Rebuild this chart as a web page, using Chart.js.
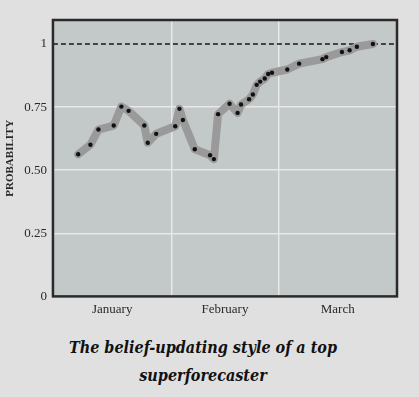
<!DOCTYPE html>
<html>
<head>
<meta charset="utf-8">
<script src="https://cdn.jsdelivr.net/npm/chart.js@4/dist/chart.umd.min.js"></script>
<style>
  html, body { margin: 0; padding: 0; background: #e0e0e0; }
  #wrap { position: relative; width: 419px; height: 322px; }
  #caption {
    position: absolute; left: 0; top: 334px; width: 406px;
    text-align: center; font-family: "DejaVu Serif Condensed", "DejaVu Serif", serif;
    font-style: italic; font-weight: bold; font-size: 16px; line-height: 28px; color: #111;
  }
</style>
</head>
<body>
<div id="wrap"><canvas id="chart"></canvas></div>
<div id="caption">The belief-updating style of a top<br>superforecaster</div>
<script>
// day of the year (0 = 1 January) and forecast probability
const days = [6.6, 9.8, 11.9, 15.9, 17.9, 19.8, 23.9, 24.8, 27.0, 32.0, 33.1, 34.0, 37.1, 41.1, 42.1,
              43.2, 46.2, 48.3, 49.2, 51.3, 52.3, 53.3, 54.2, 55.4, 56.3, 57.3, 61.3, 64.4, 70.5,
              71.5, 75.6, 77.6, 79.5, 83.7];
const probability = [0.563, 0.601, 0.661, 0.677, 0.752, 0.735, 0.677, 0.609, 0.644, 0.674, 0.743, 0.699,
                     0.583, 0.559, 0.544, 0.722, 0.763, 0.727, 0.760, 0.781, 0.800, 0.838, 0.851, 0.863,
                     0.881, 0.886, 0.899, 0.922, 0.940, 0.948, 0.968, 0.975, 0.989, 1.0];
const months = ['January', 'February', 'March'];
const monthStarts = [0, 31, 59, 90];
const yTicks = [0, 0.25, 0.5, 0.75, 1];
const certainty = 1;

// tick list for x: month boundaries (grid lines) and month middles (labels)
let xTicks = [];
let monthMid = {};
for (let i = 0; i < months.length; i++) {
    xTicks.push(monthStarts[i]);
    let mid = (monthStarts[i] + monthStarts[i + 1]) / 2;
    xTicks.push(mid);
    monthMid[mid] = months[i];
}
xTicks.push(monthStarts[monthStarts.length - 1]);

const plotBox = {
    id: 'plotBox',
    beforeDraw(chart) {
        const a = chart.chartArea;
        const c = chart.ctx;
        c.save();
        c.fillStyle = '#c3c8c8';
        c.fillRect(a.left, a.top, a.right - a.left, a.bottom - a.top);
        c.restore();
    },
    afterDraw(chart) {
        const a = chart.chartArea;
        const c = chart.ctx;
        c.save();
        c.strokeStyle = '#2a2a2a';
        c.lineWidth = 2.5;
        c.strokeRect(a.left, a.top, a.right - a.left, a.bottom - a.top);
        c.restore();
    }
};

const serif = "'Liberation Serif', 'Times New Roman', serif";

new Chart(document.getElementById('chart'), {
    type: 'line',
    data: {
        datasets: [{
            label: 'Probability',
            data: days.map((d, i) => ({x: d, y: probability[i]})),
            borderColor: '#9a9a9a',
            borderWidth: 8,
            borderJoinStyle: 'round',
            borderCapStyle: 'round',
            pointRadius: 2.2,
            pointBackgroundColor: '#111',
            pointBorderWidth: 0,
            tension: 0,
            order: 0
        }, {
            label: 'Certainty',
            data: [{x: monthStarts[0], y: certainty}, {x: monthStarts[monthStarts.length - 1], y: certainty}],
            borderColor: '#1a1a1a',
            borderWidth: 1.3,
            borderDash: [5, 3],
            pointRadius: 0,
            order: 1
        }]
    },
    options: {
        responsive: true,
        maintainAspectRatio: false,
        animation: false,
        layout: {padding: {top: 20, right: 22, left: 4, bottom: 0}},
        plugins: {
            legend: {display: false},
            tooltip: {enabled: false}
        },
        scales: {
            x: {
                type: 'linear',
                min: monthStarts[0],
                max: monthStarts[monthStarts.length - 1],
                afterBuildTicks: (axis) => { axis.ticks = xTicks.map(v => ({value: v})); },
                ticks: {
                    autoSkip: false,
                    maxRotation: 0,
                    padding: 5,
                    color: '#2a2a2a',
                    font: {family: serif, size: 13},
                    callback: (v) => monthMid[v] || ''
                },
                grid: {
                    drawTicks: false,
                    lineWidth: 1.5,
                    color: (ctx) => (ctx.tick && monthMid[ctx.tick.value] === undefined) ? '#e8e8e8' : 'rgba(0,0,0,0)'
                },
                border: {display: false}
            },
            y: {
                min: 0,
                max: 1.095,
                afterBuildTicks: (axis) => { axis.ticks = yTicks.map(v => ({value: v})); },
                ticks: {
                    padding: 6,
                    color: '#2a2a2a',
                    font: {family: serif, size: 13},
                    callback: (v) => (v === 0 || v === 1) ? String(v) : v.toFixed(2)
                },
                grid: {
                    drawTicks: false,
                    lineWidth: 1.5,
                    color: (ctx) => (ctx.tick && ctx.tick.value > 0 && ctx.tick.value < 1) ? '#e8e8e8' : 'rgba(0,0,0,0)'
                },
                border: {display: false},
                title: {
                    display: true,
                    text: 'PROBABILITY',
                    color: '#2a2a2a',
                    font: {family: serif, size: 11, weight: 'bold'},
                    padding: {top: 0, bottom: 1}
                }
            }
        }
    },
    plugins: [plotBox]
});
</script>
</body>
</html>
